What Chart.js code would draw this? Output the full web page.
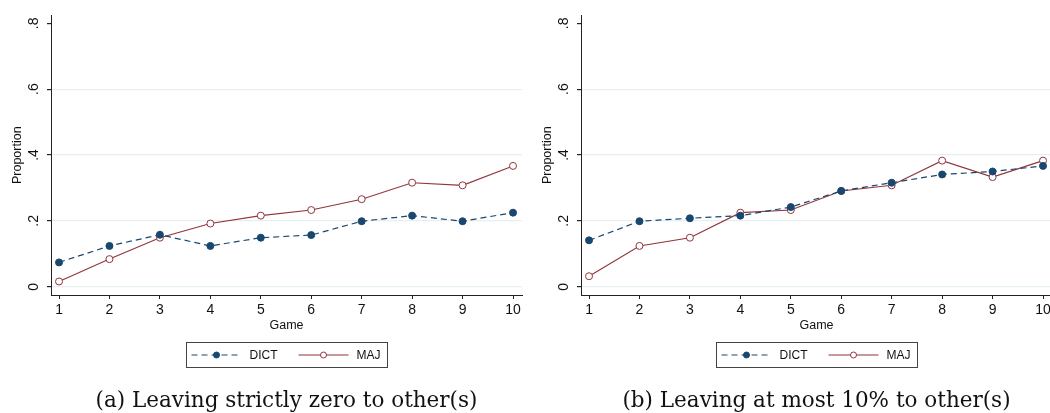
<!DOCTYPE html>
<html>
<head>
<meta charset="utf-8">
<script src="https://cdn.jsdelivr.net/npm/chart.js@4/dist/chart.umd.min.js"></script>
<style>
  html, body { margin: 0; padding: 0; background: #fff; overflow: hidden; width: 1050px; height: 413px; }
  .panel { position: absolute; top: 0; width: 530px; height: 413px; }
  #panelA { left: 0; }
  #panelB { left: 530px; }
</style>
</head>
<body>
<div class="panel" id="panelA"><canvas id="chartA"></canvas></div>
<div class="panel" id="panelB"><canvas id="chartB"></canvas></div>
<script>
// Game rounds on the horizontal axis
const games = [1, 2, 3, 4, 5, 6, 7, 8, 9, 10];

// (a) share leaving strictly zero to others
const dictZero = [0.074, 0.124, 0.158, 0.124, 0.149, 0.157, 0.199, 0.216, 0.199, 0.225];
const majZero  = [0.016, 0.084, 0.149, 0.192, 0.216, 0.233, 0.266, 0.316, 0.308, 0.367];

// (b) share leaving at most 10% to others
const dictTen = [0.141, 0.199, 0.208, 0.216, 0.242, 0.291, 0.316, 0.341, 0.350, 0.367];
const majTen  = [0.032, 0.124, 0.149, 0.225, 0.233, 0.291, 0.308, 0.383, 0.333, 0.383];

const yTickValues = [0, 0.2, 0.4, 0.6, 0.8];
const yTickLabels = ['0', '.2', '.4', '.6', '.8'];
const seriesNames = ['DICT', 'MAJ'];
const captions = ['(a) Leaving strictly zero to other(s)', '(b) Leaving at most 10% to other(s)'];
const xTitle = 'Game';
const yTitle = 'Proportion';

const SANS = "'Liberation Sans', Arial, sans-serif";
const SERIF = "'DejaVu Serif', 'Liberation Serif', serif";
const NAVY = '#1a476f';
const MAROON = '#90353b';
const GRID = '#e6eff1';
const AXIS = '#222222';

// Framed legend below the axis: dashed line with filled dot, solid line with open circle
const framedLegend = {
  id: 'framedLegend',
  afterDraw(chart) {
    const ctx = chart.ctx;
    const area = chart.chartArea;
    const w = 201, h = 25;
    const left = Math.round((area.left + area.right) / 2 - w / 2) + 0.5;
    const top = Math.round(area.bottom + 47) + 0.5;
    const cy = top + h / 2;
    ctx.save();
    ctx.strokeStyle = '#444';
    ctx.lineWidth = 1;
    ctx.strokeRect(left, top, w, h);

    const entries = chart.data.datasets.map((ds, i) => ({ ds, offset: i === 0 ? 5 : 112 }));
    entries.forEach(({ ds, offset }) => {
      const sx = left + offset, ex = sx + 50, mx = sx + 25;
      ctx.beginPath();
      ctx.setLineDash(ds.borderDash || []);
      ctx.lineDashOffset = 0;
      ctx.strokeStyle = ds.borderColor;
      ctx.lineWidth = ds.borderWidth;
      ctx.moveTo(sx, cy);
      ctx.lineTo(ex, cy);
      ctx.stroke();
      ctx.setLineDash([]);
      ctx.beginPath();
      ctx.arc(mx, cy, 3, 0, Math.PI * 2);
      ctx.fillStyle = ds.pointBackgroundColor;
      ctx.fill();
      ctx.strokeStyle = ds.pointBorderColor;
      ctx.lineWidth = 1;
      ctx.stroke();
      ctx.fillStyle = '#111';
      ctx.font = '12px ' + SANS;
      ctx.textAlign = 'left';
      ctx.textBaseline = 'middle';
      ctx.fillText(ds.label, ex + 8, cy + 0.5);
    });
    ctx.restore();
  }
};

function makeChart(canvasId, dictVals, majVals, caption) {
  const toPoints = vals => games.map((g, i) => ({ x: g, y: vals[i] }));
  return new Chart(document.getElementById(canvasId), {
    type: 'line',
    data: {
      datasets: [
        {
          label: seriesNames[0],
          data: toPoints(dictVals),
          borderColor: NAVY,
          borderWidth: 1.2,
          borderDash: [6, 4],
          pointRadius: 3.5,
          pointBackgroundColor: NAVY,
          pointBorderColor: NAVY,
          pointBorderWidth: 1,
          tension: 0
        },
        {
          label: seriesNames[1],
          data: toPoints(majVals),
          borderColor: MAROON,
          borderWidth: 1.1,
          pointRadius: 3.5,
          pointBackgroundColor: '#ffffff',
          pointBorderColor: MAROON,
          pointBorderWidth: 1,
          tension: 0
        }
      ]
    },
    options: {
      responsive: true,
      maintainAspectRatio: false,
      animation: false,
      events: [],
      layout: { padding: { top: 14, right: 8, left: 0, bottom: 0 } },
      plugins: {
        legend: { display: false },
        tooltip: { enabled: false },
        title: {
          display: true,
          position: 'bottom',
          fullSize: false,
          text: caption,
          color: '#111',
          font: { family: SERIF, size: 21.5, weight: 'normal', lineHeight: 1.1 },
          padding: { top: 56.35, bottom: 0 }
        }
      },
      scales: {
        x: {
          type: 'linear',
          min: 0.841,
          max: 10.178,
          afterBuildTicks: s => { s.ticks = games.map(v => ({ value: v })); },
          afterFit: s => { s.height = 38; },
          border: { display: true, color: AXIS, width: 1 },
          grid: { display: true, drawOnChartArea: false, drawTicks: true, tickLength: 4, tickColor: AXIS },
          ticks: {
            color: '#111',
            font: { family: SANS, size: 14 },
            padding: 3,
            maxRotation: 0,
            minRotation: 0,
            autoSkip: false,
            callback: v => String(v)
          },
          title: {
            display: true,
            text: xTitle,
            color: '#111',
            font: { family: SANS, size: 12.5, lineHeight: 1.2 },
            padding: { top: 0, bottom: 0 }
          }
        },
        y: {
          type: 'linear',
          min: -0.025,
          max: 0.824,
          afterBuildTicks: s => { s.ticks = yTickValues.map(v => ({ value: v })); },
          afterFit: s => { s.width = 51; },
          border: { display: true, color: AXIS, width: 1 },
          grid: {
            display: true,
            drawOnChartArea: true,
            drawTicks: true,
            tickLength: 4,
            tickColor: AXIS,
            lineWidth: 1.2,
            color: ctx => (ctx.tick && ctx.tick.value >= 0.8 ? 'rgba(0,0,0,0)' : GRID)
          },
          ticks: {
            color: '#111',
            font: { family: SANS, size: 14 },
            minRotation: 90,
            maxRotation: 90,
            crossAlign: 'center',
            padding: 7,
            autoSkip: false,
            callback: v => {
              const i = yTickValues.findIndex(t => Math.abs(t - v) < 1e-9);
              return i >= 0 ? yTickLabels[i] : '';
            }
          },
          title: {
            display: true,
            text: yTitle,
            color: '#111',
            font: { family: SANS, size: 12.5, lineHeight: 1.2 },
            padding: { top: 10, bottom: 0 }
          }
        }
      }
    },
    plugins: [framedLegend]
  });
}

makeChart('chartA', dictZero, majZero, captions[0]);
makeChart('chartB', dictTen, majTen, captions[1]);
</script>
</body>
</html>
